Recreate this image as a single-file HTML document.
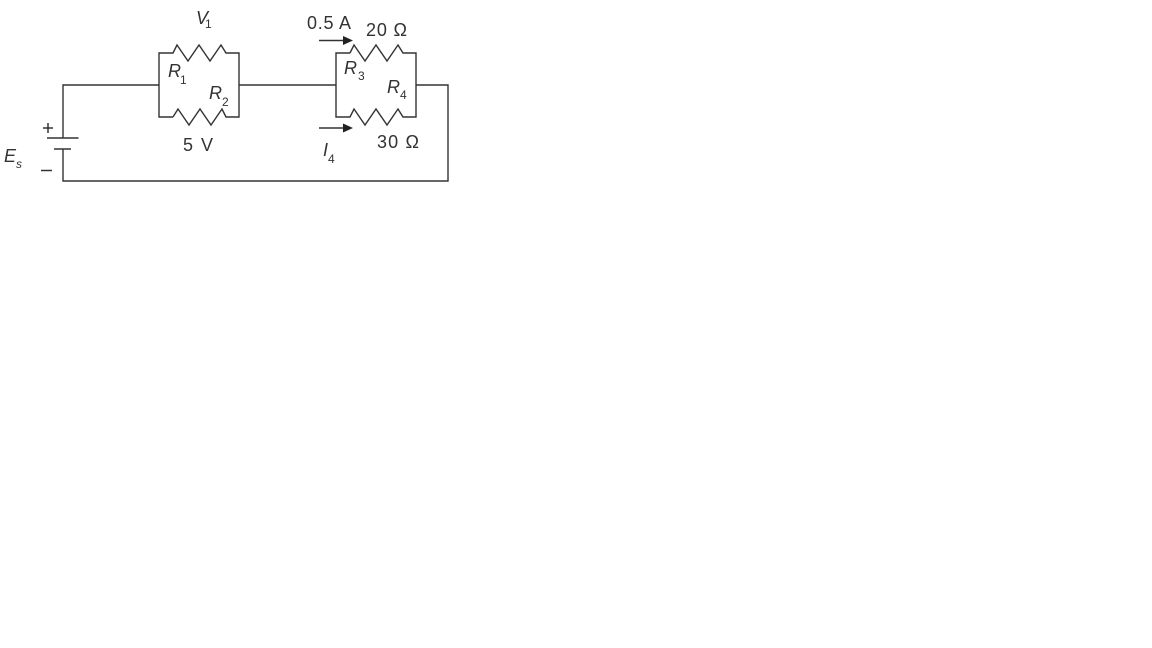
<!DOCTYPE html>
<html>
<head>
<meta charset="utf-8">
<style>
html,body{margin:0;padding:0;background:#fff;width:1152px;height:648px;overflow:hidden}
svg{display:block}
text{font-family:"Liberation Sans",sans-serif;font-size:18px;fill:#333}
.i{font-style:italic}
.s{font-size:12px}
</style>
</head>
<body>
<svg width="1152" height="648" viewBox="0 0 1152 648" xmlns="http://www.w3.org/2000/svg">
<g fill="none" stroke="#333" stroke-width="1.4" stroke-linejoin="miter">
<path d="M63 138V85H159"/>
<path d="M63 149V181H448V85H416"/>
<path d="M239 85H336"/>
<path d="M47 138H78.500"/>
<path d="M54 149H71"/>
<path d="M173 117H159V53H173L177 45L188 61L199 45L210 61L221 45L226 53H239V117H226L222 109L211 125L200 109L189 125L178 109L173 117"/>
<path d="M350 53H336V117H350L354 109L365 125L376 109L387 125L398 109L403 117H416V53H403L398 45L387 61L376 45L365 61L354 45L350 53"/>
<path d="M319 40.500H345"/>
<path d="M319 128H345"/>
<path d="M43 128H53M48 123V133" stroke-width="1.5"/>
<path d="M41 170.500H52" stroke-width="1.5"/>
</g>
<path d="M343 36L353 40.500L343 45Z" fill="#222"/>
<path d="M343 123.500L353 128L343 132.500Z" fill="#222"/>
<text class="i" x="196" y="24">V</text><text class="s" x="205" y="28">1</text>
<text class="i" x="168" y="77">R</text><text class="s" x="180" y="84">1</text>
<text class="i" x="209" y="99">R</text><text class="s" x="222" y="106">2</text>
<text class="i" x="344" y="74">R</text><text class="s" x="358" y="80">3</text>
<text class="i" x="387" y="93">R</text><text class="s" x="400" y="99">4</text>
<text x="183" y="151" textLength="30">5 V</text>
<text x="307" y="29" textLength="44">0.5 A</text>
<text x="366" y="36" textLength="41">20 Ω</text>
<text x="377" y="148" textLength="42">30 Ω</text>
<text class="i" x="323" y="156">I</text><text class="s" x="328" y="163">4</text>
<text class="i" x="4" y="162">E</text><text class="i s" x="16" y="168">s</text>
</svg>
</body>
</html>
